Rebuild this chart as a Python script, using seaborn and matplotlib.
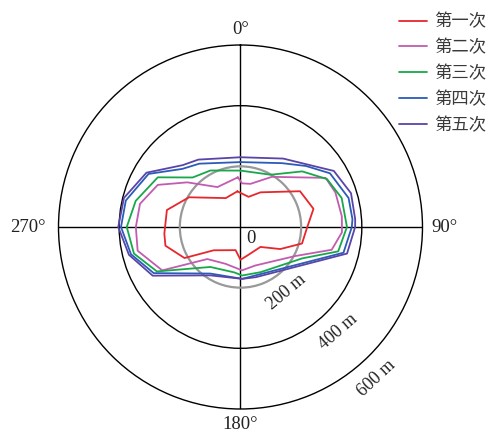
import numpy as np
import pandas as pd
import seaborn as sns
import matplotlib
matplotlib.use("Agg")
import matplotlib.pyplot as plt

# 五次测量的边界（方位角：正北起顺时针，单位°；半径单位 m）
series_names = ["第一次", "第二次", "第三次", "第四次", "第五次"]
series_colors = ["#e8262c", "#c25cb0", "#17a84a", "#2a5cb8", "#5a44a8"]

ang_1 = [355, 15, 30, 59, 76, 91, 105, 119, 135, 167, 180, 192, 229, 241, 256, 265, 283, 300, 333]
r_1 = [118, 103, 132, 229, 248, 219, 210, 150, 93, 97, 108, 78, 117, 211, 255, 252, 249, 196, 107]

ang_2 = [357, 2, 13, 32, 60, 70, 84, 93, 104, 118, 159, 178, 202, 226, 241, 257, 270, 283, 297, 310, 330]
r_2 = [164, 144, 146, 195, 324, 333, 336, 335, 310, 204, 136, 143, 131, 152, 295, 348, 345, 340, 306, 229, 152]

ang_3 = [0, 30, 48, 61, 74, 90, 104, 117, 156, 178, 188, 217, 242, 256, 270, 284, 301, 316, 332]
r_3 = [186, 199, 274, 326, 347, 351, 332, 228, 163, 160, 151, 165, 312, 362, 375, 356, 318, 227, 211]

ang_4 = [0, 33, 47, 59, 75, 86, 90, 104, 163, 178, 213, 242, 256, 270, 283, 300, 315, 327]
r_4 = [214, 251, 295, 344, 369, 370, 367, 350, 167, 171, 183, 324, 372, 394, 388, 350, 271, 249]

ang_5 = [0, 32, 47, 59, 73, 86, 90, 104, 163, 178, 212, 241, 256, 270, 284, 300, 317, 328]
r_5 = [230, 266, 302, 359, 381, 379, 378, 362, 173, 171, 188, 331, 379, 403, 396, 358, 279, 262]

angles = [ang_1, ang_2, ang_3, ang_4, ang_5]
radii = [r_1, r_2, r_3, r_4, r_5]

theta_ticks = [0, 90, 180, 270]
theta_labels = ["0°", "90°", "180°", "270°"]
ring_values = [200, 400]
ring_labels = ["200 m", "400 m", "600 m"]

# 整理成长表（每条闭合曲线首尾相连）
rows = []
for name, a, r in zip(series_names, angles, radii):
    a = a + a[:1]
    r = r + r[:1]
    for ai, ri in zip(a, r):
        rows.append({"theta": np.deg2rad(ai), "r": ri, "次数": name})
df = pd.DataFrame(rows)

sns.set_theme(style="white")
plt.rcParams["font.family"] = ["Liberation Serif", "Noto Sans CJK SC", "DejaVu Sans"]

fig = plt.figure(figsize=(4.92, 4.34), dpi=100)
ax = fig.add_axes([0.1189, 0.0576, 0.7398, 0.8387], projection="polar")
ax.set_theta_zero_location("N")
ax.set_theta_direction(-1)

sns.lineplot(data=df, x="theta", y="r", hue="次数", hue_order=series_names,
             palette=series_colors, estimator=None, sort=False, linewidth=1.3, ax=ax)

ax.set_ylim(0, 600)
ax.set_xlabel("")
ax.set_ylabel("")

# 网格与坐标
ax.set_thetagrids(theta_ticks, [""] * len(theta_ticks))
ax.set_rgrids(ring_values, labels=["", ""])
ax.grid(True)
ax.xaxis.grid(True, color="black", linewidth=1.0)
gl = ax.yaxis.get_gridlines()
gl[0].set_color("#999999")
gl[0].set_linewidth(1.6)
gl[1].set_color("black")
gl[1].set_linewidth(1.0)
ax.spines["polar"].set_color("black")
ax.spines["polar"].set_linewidth(1.0)

# 方位角标注（放在外圈之外）
label_r = [650, 672, 651, 702]
for t, lab, rr in zip(theta_ticks, theta_labels, label_r):
    ax.text(np.deg2rad(t), rr, lab, fontsize=13.5, ha="center", va="center",
            color="#222222", clip_on=False)

# 距离标注
ring_pos = [(144.5, 263, 40), (137, 473, 41), (138, 671, 43)]
for text, (a, r, rot) in zip(ring_labels, ring_pos):
    ax.text(np.deg2rad(a), r, text, fontsize=13, rotation=rot, rotation_mode="anchor",
            ha="center", va="center", color="#222222", clip_on=False)
ax.annotate("0", xy=(0, 0), xytext=(7.5, -8), textcoords="offset points",
            fontsize=13.5, ha="center", va="center", color="#222222")

# 图例
handles, labels = ax.get_legend_handles_labels()
ax.get_legend().remove()
ax.legend(handles, labels, loc="upper left", bbox_to_anchor=(0.811, 0.971),
          bbox_transform=fig.transFigure, frameon=False, borderpad=0, borderaxespad=0,
          handlelength=1.6, handletextpad=0.45, labelspacing=0.455,
          prop={"family": "Noto Sans CJK SC", "size": 12.5}, labelcolor="#3a3a3a")

plt.savefig("out.png", dpi=100)
